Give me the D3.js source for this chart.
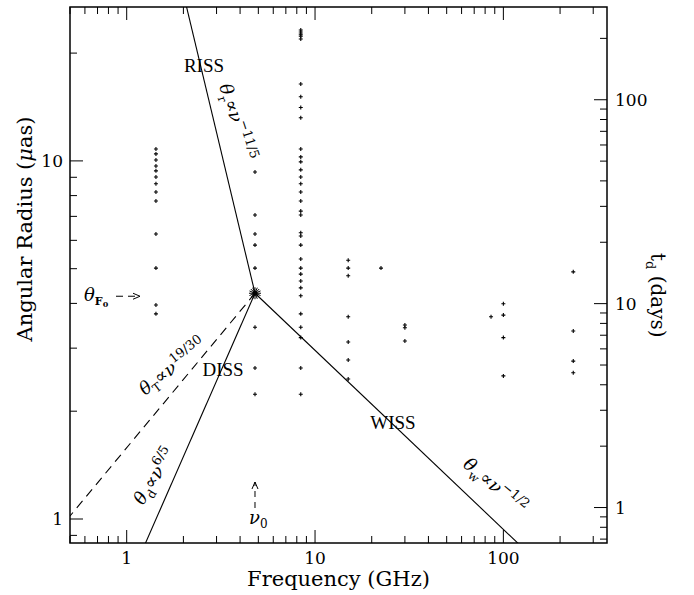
<!DOCTYPE html>
<html>
<head>
<meta charset="utf-8">
<script src="https://cdn.jsdelivr.net/npm/d3@7"></script>
<style>
  body { margin: 0; background: #fff; }
</style>
</head>
<body>
<div id="chart"></div>
<script>
// observing bands (GHz) and the source sizes measured in each (micro-arcsec)
var bandFreqs = [1.43, 4.8, 8.4, 15, 22.4, 30, 86, 100, 235]
var bandRadii = [
  [10.8, 10.46, 10.06, 9.68, 9.38, 9.02, 8.63, 8.19, 7.73, 6.25, 5.02, 3.96, 3.74],
  [9.31, 7.06, 6.25, 5.82, 5.02, 3.43, 2.64, 2.23],
  [23.2, 22.9, 22.6, 22.3, 21.9, 16.4, 15.1, 14.1, 13.2, 10.8, 10.26, 9.94, 9.44,
    9.02, 8.63, 8.19, 7.73, 7.24, 7.06, 6.3, 6.17, 5.82, 5.32, 5.02, 4.83, 4.62,
    4.42, 4.2, 3.74, 3.43, 3.21, 2.64, 2.23],
  [5.28, 5.02, 4.78, 3.67, 3.12, 2.78, 2.46],
  [5.02],
  [3.48, 3.42, 3.14],
  [3.67],
  [3.99, 3.71, 3.21, 2.51],
  [4.9, 3.35, 2.76, 2.56]
]

// transition frequency and Fresnel angle
var nu0 = 4.8
var thetaF0 = 4.27

// scattering regimes: power-law index and where each line runs to
var lawIndex = [-11 / 5, -1 / 2, 6 / 5, 19 / 30]
var lawEnd = [0.5, 355, 0.5, 0.5]
var lawDashed = [false, false, false, true]

var xTickLabels = [1, 10, 100]
var yTickLabels = [1, 10]
var y2TickLabels = [1, 10, 100]

var width = 694
var height = 595
var margin = { top: 7, bottom: 52, left: 70, right: 87 }

var svg = d3
  .select('#chart')
  .append('svg')
  .attr('width', width)
  .attr('height', height)

var x = d3.scaleLog().domain([0.5, 355]).range([margin.left, width - margin.right])
var y = d3.scaleLog().domain([0.857, 26.9]).range([height - margin.bottom, margin.top])
var y2 = d3.scaleLog().domain([0.67, 285]).range([height - margin.bottom, margin.top])

var x0 = margin.left
var x1 = width - margin.right
var yTop = margin.top
var yBot = height - margin.bottom

svg.append('clipPath').attr('id', 'frame')
  .append('rect')
  .attr('x', x0).attr('y', yTop)
  .attr('width', x1 - x0).attr('height', yBot - yTop)

var isMajor = v => Math.abs(Math.log10(v) - Math.round(Math.log10(v))) < 1e-6

// ticks on all four sides, pointing inward
var ticks = svg.append('g').attr('stroke', '#000').attr('stroke-width', 1)
x.ticks().forEach(v => {
  var len = isMajor(v) ? 13 : 7
  ticks.append('line').attr('x1', x(v)).attr('x2', x(v)).attr('y1', yBot).attr('y2', yBot - len)
  ticks.append('line').attr('x1', x(v)).attr('x2', x(v)).attr('y1', yTop).attr('y2', yTop + len)
})
y.ticks().forEach(v => {
  var len = isMajor(v) ? 13 : 7
  ticks.append('line').attr('x1', x0).attr('x2', x0 + len).attr('y1', y(v)).attr('y2', y(v))
})
y2.ticks().forEach(v => {
  var len = isMajor(v) ? 13 : 7
  ticks.append('line').attr('x1', x1).attr('x2', x1 - len).attr('y1', y2(v)).attr('y2', y2(v))
})

svg.append('rect')
  .attr('x', x0).attr('y', yTop)
  .attr('width', x1 - x0).attr('height', yBot - yTop)
  .attr('fill', 'none')
  .attr('stroke', '#000')
  .attr('stroke-width', 1.5)

// tick labels
var axisFont = 'DejaVu Serif'
svg.append('g').selectAll('text')
  .data(xTickLabels).enter().append('text')
  .attr('x', d => x(d)).attr('y', 564)
  .attr('text-anchor', 'middle')
  .attr('font-family', axisFont).attr('font-size', 17)
  .text(d => d)

svg.append('g').selectAll('text')
  .data(yTickLabels).enter().append('text')
  .attr('x', 63).attr('y', d => y(d) + 6)
  .attr('text-anchor', 'end')
  .attr('font-family', axisFont).attr('font-size', 17)
  .text(d => d)

svg.append('g').selectAll('text')
  .data(y2TickLabels).enter().append('text')
  .attr('x', 615).attr('y', d => y2(d) + 6)
  .attr('text-anchor', 'start')
  .attr('font-family', axisFont).attr('font-size', 17)
  .text(d => d)

// axis titles
svg.append('text')
  .attr('x', (x0 + x1) / 2).attr('y', 586)
  .attr('text-anchor', 'middle')
  .attr('font-family', axisFont).attr('font-size', 21)
  .text('Frequency (GHz)')

var yTitle = svg.append('text')
  .attr('transform', 'translate(32,' + 229 + ') rotate(-90)')
  .attr('text-anchor', 'middle')
  .attr('font-family', axisFont).attr('font-size', 21)
yTitle.append('tspan').text('Angular Radius (')
yTitle.append('tspan').attr('font-style', 'italic').text('μ')
yTitle.append('tspan').text('as)')

var y2Title = svg.append('text')
  .attr('transform', 'translate(651,' + 253 + ') rotate(90)')
  .attr('text-anchor', 'start')
  .attr('font-family', axisFont).attr('font-size', 20)
y2Title.append('tspan').text('t')
y2Title.append('tspan').attr('font-size', 13).attr('dy', 5).text('d')
y2Title.append('tspan').attr('dy', -5).text(' (days)')

// power-law lines through the transition point
var plot = svg.append('g').attr('clip-path', 'url(#frame)')
var line = d3.line().x(d => x(d[0])).y(d => y(d[1]))
lawIndex.forEach((k, i) => {
  var pts = [[nu0, thetaF0], [lawEnd[i], thetaF0 * Math.pow(lawEnd[i] / nu0, k)]]
  plot.append('path')
    .attr('d', line(pts))
    .attr('fill', 'none')
    .attr('stroke', '#000')
    .attr('stroke-width', 1.1)
    .attr('stroke-dasharray', lawDashed[i] ? '9,6' : null)
})

// measured sizes as small crosses
bandFreqs.forEach((f, i) => {
  bandRadii[i].forEach(r => {
    var cx = x(f)
    var cy = y(r)
    plot.append('path')
      .attr('d', 'M' + (cx - 2) + ',' + cy + 'H' + (cx + 2) + 'M' + cx + ',' + (cy - 2) + 'V' + (cy + 2))
      .attr('stroke', '#000')
      .attr('stroke-width', 1.1)
  })
})

// asterisk at the transition point
var star = plot.append('g').attr('transform', 'translate(' + x(nu0) + ',' + y(thetaF0) + ')')
for (var a = 0; a < 8; a++) {
  var ang = (a * Math.PI) / 8
  star.append('line')
    .attr('x1', -6 * Math.cos(ang)).attr('y1', -6 * Math.sin(ang))
    .attr('x2', 6 * Math.cos(ang)).attr('y2', 6 * Math.sin(ang))
    .attr('stroke', '#000').attr('stroke-width', 1)
}
star.append('circle').attr('r', 2.5).attr('fill', '#000')

// regime names
var nameFont = 'Liberation Serif'
svg.append('text').attr('x', 204).attr('y', 72).attr('text-anchor', 'middle')
  .attr('font-family', nameFont).attr('font-size', 19).text('RISS')
svg.append('text').attr('x', 223).attr('y', 376).attr('text-anchor', 'middle')
  .attr('font-family', nameFont).attr('font-size', 19).text('DISS')
svg.append('text').attr('x', 393).attr('y', 429).attr('text-anchor', 'middle')
  .attr('font-family', nameFont).attr('font-size', 19).text('WISS')

// power-law labels written along the lines
function lawLabel (tx, ty, rot, sub, sup) {
  var t = svg.append('text')
    .attr('transform', 'translate(' + tx + ',' + ty + ') rotate(' + rot + ')')
    .attr('font-family', axisFont).attr('font-size', 18)
  t.append('tspan').attr('font-style', 'italic').text('θ')
  t.append('tspan').attr('font-size', 12).attr('dy', 5).text(sub)
  t.append('tspan').attr('dy', -5).text('∝')
  t.append('tspan').attr('font-style', 'italic').text('ν')
  t.append('tspan').attr('font-size', 13).attr('dy', -8).text(sup)
}
lawLabel(219, 86, 72, 'r', '−11/5')
lawLabel(145, 396, -38, 'T', '19/30')
lawLabel(143, 506, -58, 'd', '6/5')
lawLabel(462, 466, 40, 'w', '−1/2')

// theta_F0 marker on the left
var tf = svg.append('text').attr('x', 84).attr('y', 301)
  .attr('font-family', axisFont).attr('font-size', 18)
tf.append('tspan').attr('font-style', 'italic').text('θ')
tf.append('tspan').attr('font-size', 11).attr('font-weight', 'bold').attr('dy', 4).text('F')
tf.append('tspan').attr('font-size', 8).attr('font-weight', 'bold').attr('dy', 2).text('0')

var arrowY = y(thetaF0) + 3
svg.append('line')
  .attr('x1', 116).attr('x2', 139).attr('y1', arrowY).attr('y2', arrowY)
  .attr('stroke', '#000').attr('stroke-dasharray', '7,5')
svg.append('path')
  .attr('d', 'M133,' + (arrowY - 3) + 'L140,' + arrowY + 'L133,' + (arrowY + 3))
  .attr('fill', 'none').attr('stroke', '#000')

// nu_0 marker at the bottom
var nx = x(nu0)
svg.append('line')
  .attr('x1', nx).attr('x2', nx).attr('y1', 508).attr('y2', 482)
  .attr('stroke', '#000').attr('stroke-dasharray', '6,5')
svg.append('path')
  .attr('d', 'M' + (nx - 3) + ',489L' + nx + ',482L' + (nx + 3) + ',489')
  .attr('fill', 'none').attr('stroke', '#000')
var nl = svg.append('text').attr('x', nx - 6).attr('y', 524)
  .attr('font-family', axisFont).attr('font-size', 18)
nl.append('tspan').attr('font-style', 'italic').text('ν')
nl.append('tspan').attr('font-size', 12).attr('dy', 4).text('0')
</script>
</body>
</html>
